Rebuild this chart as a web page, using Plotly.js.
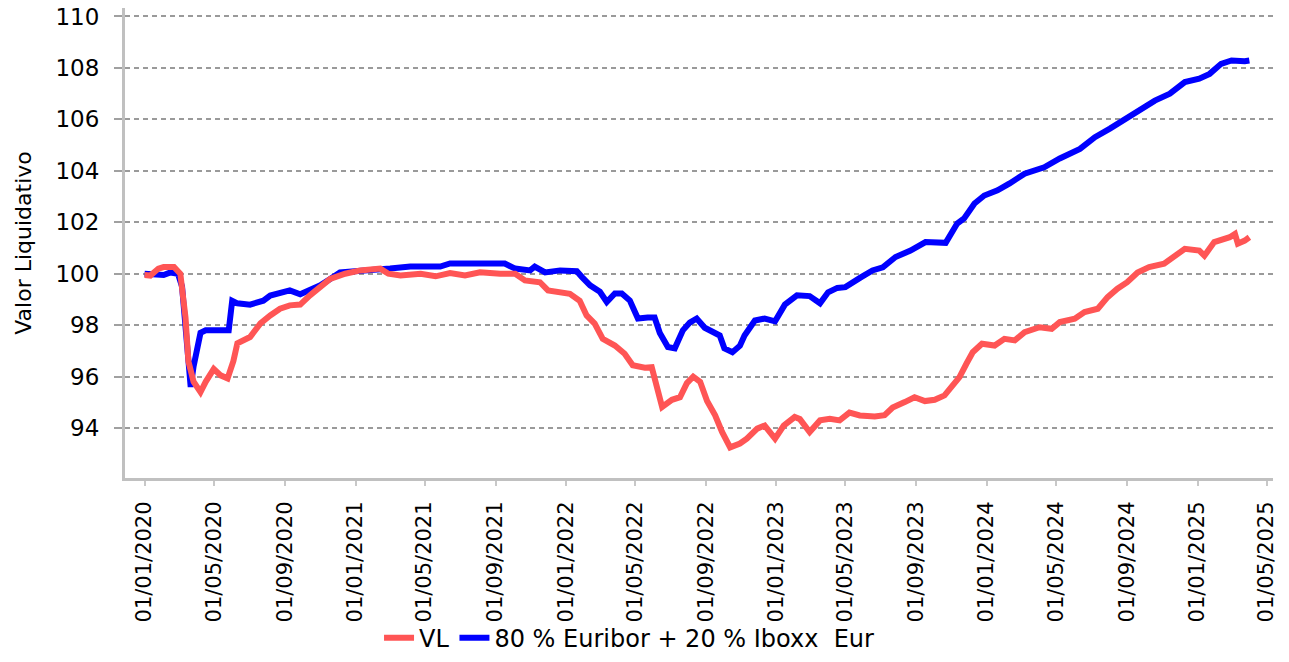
<!DOCTYPE html>
<html>
<head>
<meta charset="utf-8">
<script src="https://cdn.plot.ly/plotly-3.0.1.min.js"></script>
<style>
  html, body { margin: 0; padding: 0; background: #ffffff; }
  #chart { width: 1289px; height: 662px; }
</style>
</head>
<body>
<div id="chart"></div>
<script>
// Benchmark: 80 % Euribor + 20 % Iboxx Eur
const benchDates = [
  '2020-01-01','2020-01-20','2020-02-03','2020-02-15','2020-02-28','2020-03-06','2020-03-12','2020-03-17',
  '2020-03-21','2020-03-26','2020-04-02','2020-04-07','2020-04-16','2020-05-03','2020-05-15','2020-05-26',
  '2020-06-01','2020-06-10','2020-07-02','2020-07-25','2020-08-06','2020-08-23','2020-09-09','2020-09-27',
  '2020-10-14','2020-11-01','2020-11-18','2020-12-05','2020-12-31','2021-01-26','2021-03-02','2021-04-06',
  '2021-05-28','2021-06-14','2021-08-05','2021-09-17','2021-10-05','2021-10-31','2021-11-08','2021-11-26',
  '2021-12-22','2022-01-08','2022-01-20','2022-01-29','2022-02-12','2022-03-01','2022-03-13','2022-03-27',
  '2022-04-08','2022-04-22','2022-05-06','2022-05-23','2022-06-04','2022-06-13','2022-06-27','2022-07-09',
  '2022-07-23','2022-08-04','2022-08-16','2022-08-30','2022-09-11','2022-09-25','2022-10-03','2022-10-17',
  '2022-10-30','2022-11-07','2022-11-25','2022-12-12','2022-12-30','2023-01-16','2023-02-06','2023-02-28',
  '2023-03-18','2023-04-01','2023-04-17','2023-05-01','2023-05-27','2023-06-17','2023-07-05','2023-07-27',
  '2023-08-22','2023-09-17','2023-10-22','2023-11-01','2023-11-11','2023-11-23','2023-12-11','2023-12-28',
  '2024-01-20','2024-02-10','2024-03-07','2024-04-10','2024-05-07','2024-06-11','2024-07-07','2024-08-02',
  '2024-08-28','2024-09-23','2024-10-19','2024-11-14','2024-12-10','2025-01-04','2025-01-22','2025-02-11',
  '2025-03-01','2025-03-24','2025-04-01'
];
const benchValues = [
  100.0, 100.0, 99.95, 100.05, 100.0, 99.5, 98.0, 96.5,
  95.6, 96.4, 97.2, 97.7, 97.8, 97.8, 97.75, 97.8,
  98.95, 98.85, 98.8, 98.95, 99.15, 99.25, 99.35, 99.2,
  99.35, 99.55, 99.8, 100.05, 100.1, 100.13, 100.2, 100.28,
  100.28, 100.4, 100.4, 100.4, 100.2, 100.13, 100.28, 100.05,
  100.13, 100.13, 100.1, 99.87, 99.55, 99.3, 98.9, 99.23,
  99.23, 98.96, 98.26, 98.3, 98.3, 97.7, 97.15, 97.1,
  97.8, 98.1, 98.26, 97.9, 97.75, 97.6, 97.1, 96.95,
  97.2, 97.6, 98.18, 98.26, 98.15, 98.8, 99.16, 99.13,
  98.85, 99.28, 99.45, 99.48, 99.85, 100.13, 100.25, 100.65,
  100.9, 101.23, 101.2, 101.6, 101.95, 102.15, 102.73, 103.04,
  103.24, 103.51, 103.89, 104.14, 104.48, 104.85, 105.31, 105.64,
  106.02, 106.41, 106.73, 107.0, 107.45, 107.58, 107.77, 108.16,
  108.29, 108.26, 108.29
];

// Fund: VL (valor liquidativo)
const vlDates = [
  '2020-01-01','2020-01-11','2020-01-25','2020-02-03','2020-02-21','2020-03-03','2020-03-12','2020-03-17',
  '2020-03-26','2020-04-07','2020-04-16','2020-04-30','2020-05-12','2020-05-24','2020-06-03','2020-06-10',
  '2020-07-02','2020-07-20','2020-08-06','2020-08-23','2020-09-09','2020-09-27','2020-10-14','2020-11-01',
  '2020-11-18','2020-12-14','2021-01-09','2021-02-13','2021-02-27','2021-03-20','2021-04-24','2021-05-20',
  '2021-06-14','2021-07-10','2021-08-05','2021-09-09','2021-10-05','2021-10-22','2021-11-17','2021-12-01',
  '2021-12-22','2022-01-08','2022-01-25','2022-02-06','2022-02-20','2022-03-06','2022-03-27','2022-04-13',
  '2022-04-27','2022-05-18','2022-05-30','2022-06-08','2022-06-17','2022-07-04','2022-07-18','2022-07-30',
  '2022-08-10','2022-08-22','2022-09-03','2022-09-17','2022-09-29','2022-10-13','2022-10-30','2022-11-11',
  '2022-11-29','2022-12-12','2022-12-30','2023-01-14','2023-02-02','2023-02-11','2023-02-28','2023-03-18',
  '2023-04-04','2023-04-21','2023-05-08','2023-05-26','2023-06-21','2023-07-08','2023-07-22','2023-08-12',
  '2023-08-29','2023-09-16','2023-10-03','2023-10-20','2023-11-01','2023-11-15','2023-11-27','2023-12-08',
  '2023-12-24','2024-01-15','2024-02-01','2024-02-19','2024-03-07','2024-04-02','2024-04-23','2024-05-07',
  '2024-06-02','2024-06-19','2024-07-12','2024-07-29','2024-08-15','2024-09-01','2024-09-19','2024-10-09',
  '2024-11-04','2024-11-21','2024-12-10','2025-01-04','2025-01-13','2025-01-30','2025-02-26','2025-03-07',
  '2025-03-12','2025-03-24','2025-04-01'
];
const vlValues = [
  99.95, 99.93, 100.2, 100.26, 100.26, 100.0, 98.3, 96.6,
  95.8, 95.4, 95.8, 96.3, 96.05, 95.93, 96.6, 97.3,
  97.54, 98.07, 98.38, 98.64, 98.77, 98.8, 99.16, 99.48,
  99.8, 100.0, 100.13, 100.2, 100.0, 99.93, 100.0, 99.9,
  100.03, 99.93, 100.06, 100.0, 100.0, 99.74, 99.67, 99.35,
  99.28, 99.22, 98.95, 98.38, 98.06, 97.47, 97.21, 96.89,
  96.44, 96.35, 96.37, 95.6, 94.82, 95.1, 95.2, 95.75,
  96.0, 95.8, 95.05, 94.5, 93.85, 93.25, 93.4, 93.59,
  93.98, 94.1, 93.59, 94.1, 94.43, 94.35, 93.85, 94.3,
  94.36, 94.3, 94.6, 94.49, 94.45, 94.5, 94.8, 95.01,
  95.2, 95.05, 95.1, 95.27, 95.59, 95.98, 96.5, 96.95,
  97.28, 97.21, 97.47, 97.41, 97.73, 97.92, 97.86, 98.12,
  98.25, 98.51, 98.64, 99.09, 99.42, 99.67, 100.05, 100.26,
  100.39, 100.65, 100.97, 100.9, 100.7, 101.23, 101.42, 101.55,
  101.17, 101.29, 101.42
];

const xTickDates = ['2020-01-01','2020-05-01','2020-09-01','2021-01-01','2021-05-01','2021-09-01',
  '2022-01-01','2022-05-01','2022-09-01','2023-01-01','2023-05-01','2023-09-01',
  '2024-01-01','2024-05-01','2024-09-01','2025-01-01','2025-05-01'];
const xTickLabels = ['01/01/2020','01/05/2020','01/09/2020','01/01/2021','01/05/2021','01/09/2021',
  '01/01/2022','01/05/2022','01/09/2022','01/01/2023','01/05/2023','01/09/2023',
  '01/01/2024','01/05/2024','01/09/2024','01/01/2025','01/05/2025'];
const yTickValues = [94, 96, 98, 100, 102, 104, 106, 108, 110];
const yTickLabels = ['94', '96', '98', '100', '102', '104', '106', '108', '110'];

const seriesNames = ['VL', '80 % Euribor + 20 % Iboxx\u00a0 Eur'];

const FONT = 'DejaVu Sans, Verdana, sans-serif';

const traces = [
  {
    x: benchDates, y: benchValues, name: seriesNames[1], type: 'scatter', mode: 'lines',
    line: { color: '#0000ff', width: 6 }, legendrank: 2
  },
  {
    x: vlDates, y: vlValues, name: seriesNames[0], type: 'scatter', mode: 'lines',
    line: { color: '#ff5555', width: 6 }, legendrank: 1
  }
];

const layout = {
  width: 1289, height: 662,
  margin: { l: 125, r: 16, t: 8, b: 184, autoexpand: false },
  paper_bgcolor: '#ffffff', plot_bgcolor: '#ffffff',
  font: { family: FONT, color: '#000000', size: 21 },
  showlegend: true,
  legend: {
    orientation: 'h', x: 0.488, xref: 'container', xanchor: 'center',
    y: 0.002, yref: 'container', yanchor: 'bottom',
    font: { family: FONT, size: 24, color: '#000000' },
    bgcolor: 'rgba(0,0,0,0)'
  },
  xaxis: {
    type: 'date',
    range: ['2019-11-28', '2025-05-12'],
    tickmode: 'array', tickvals: xTickDates, ticktext: xTickLabels,
    tickangle: -90,
    tickfont: { family: FONT, size: 21, color: '#000000' },
    showline: true, linecolor: '#c0c0c0', linewidth: 3,
    ticks: 'outside', ticklen: 5, tickwidth: 2, tickcolor: '#c8c8c8',
    ticklabelstandoff: 7, automargin: false,
    showgrid: false, zeroline: false, fixedrange: true
  },
  yaxis: {
    range: [92.06, 110.33],
    tickmode: 'array', tickvals: yTickValues, ticktext: yTickLabels,
    tickfont: { family: FONT, size: 23, color: '#000000' },
    showline: true, linecolor: '#c0c0c0', linewidth: 3,
    ticks: 'outside', ticklen: 8, tickwidth: 2, tickcolor: '#a0a0a0',
    ticklabelstandoff: 10, automargin: false,
    showgrid: true, gridcolor: '#9a9a9a', gridwidth: 2, griddash: '5px,4px',
    zeroline: false, fixedrange: true,
    title: { text: 'Valor Liquidativo', font: { family: FONT, size: 22, color: '#000000' }, standoff: 18 }
  }
};

Plotly.newPlot('chart', traces, layout, { displayModeBar: false, staticPlot: true });
</script>
</body>
</html>
